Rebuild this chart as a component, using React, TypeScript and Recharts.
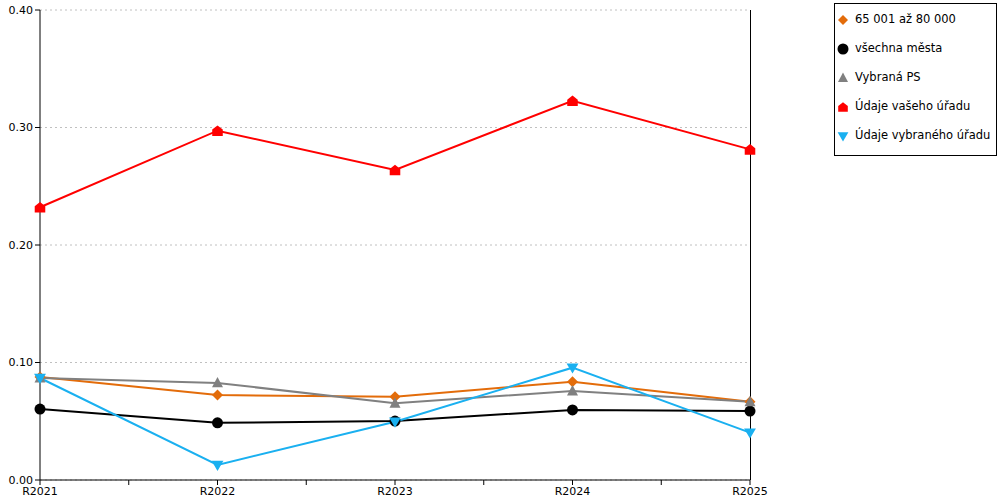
import { LineChart, Line, XAxis, YAxis, CartesianGrid, ReferenceLine } from 'recharts';

const categories = ['R2021', 'R2022', 'R2023', 'R2024', 'R2025'];
const sizeGroup = [0.0877, 0.0723, 0.0709, 0.0837, 0.0665];
const allCities = [0.0604, 0.0487, 0.0502, 0.0596, 0.0587];
const selectedPs = [0.0868, 0.0826, 0.0653, 0.0757, 0.0665];
const yourOffice = [0.2321, 0.2973, 0.2638, 0.3228, 0.2814];
const otherOffice = [0.0868, 0.0128, 0.0496, 0.0956, 0.0403];
const yTicks = [0, 0.1, 0.2, 0.3, 0.4];

const data = categories.map((name, i) => ({
  x: i,
  name,
  sizeGroup: sizeGroup[i],
  allCities: allCities[i],
  selectedPs: selectedPs[i],
  yourOffice: yourOffice[i],
  otherOffice: otherOffice[i],
}));

// tick marks sit on every category and halfway between them
const xTicks = [0, 0.5, 1, 1.5, 2, 2.5, 3, 3.5, 4];
const FONT = '"DejaVu Sans", Verdana, sans-serif';

// marker shapes
const diamond = (cx: number, cy: number, r: number) =>
  `M${cx},${cy - r}L${cx + r},${cy}L${cx},${cy + r}L${cx - r},${cy}Z`;
const triUp = (cx: number, cy: number, w: number) =>
  `M${cx},${cy - w * 1.1}L${cx + w},${cy + w * 0.8}L${cx - w},${cy + w * 0.8}Z`;
const triDown = (cx: number, cy: number, w: number) =>
  `M${cx - w},${cy - w * 0.7}L${cx + w},${cy - w * 0.7}L${cx},${cy + w}Z`;
const house = (cx: number, cy: number, w: number) =>
  `M${cx},${cy - w}L${cx + w},${cy - w * 0.2}L${cx + w},${cy + w}L${cx - w},${cy + w}L${cx - w},${cy - w * 0.2}Z`;

const shapePath = (kind: string, cx: number, cy: number, s: number) => {
  if (kind === 'diamond') return diamond(cx, cy, s);
  if (kind === 'up') return triUp(cx, cy, s);
  if (kind === 'down') return triDown(cx, cy, s * 1.08);
  return house(cx, cy, s * 0.96);
};

const makeDot = (kind: string, color: string) => (props: any) => {
  const { cx, cy, index } = props;
  const key = `${kind}-${index}`;
  if (kind === 'circle') return <circle key={key} cx={cx} cy={cy} r={5.5} fill={color} />;
  return <path key={key} d={shapePath(kind, cx, cy, 5.5)} fill={color} />;
};

const seriesDefs = [
  { key: 'sizeGroup', name: '65 001 až 80 000', color: '#e36c0a', kind: 'diamond' },
  { key: 'allCities', name: 'všechna města', color: '#000000', kind: 'circle' },
  { key: 'selectedPs', name: 'Vybraná PS', color: '#808080', kind: 'up' },
  { key: 'yourOffice', name: 'Údaje vašeho úřadu', color: '#ff0000', kind: 'house' },
  { key: 'otherOffice', name: 'Údaje vybraného úřadu', color: '#1ab0f0', kind: 'down' },
];

const LegendBox = () => (
  <div
    style={{
      position: 'absolute',
      left: 834,
      top: 3,
      width: 163,
      height: 153,
      boxSizing: 'border-box',
      border: '1px solid #000',
      background: '#fff',
      paddingTop: 1,
      fontFamily: FONT,
      fontSize: 11.5,
      color: '#000',
      whiteSpace: 'nowrap',
    }}
  >
    {seriesDefs.map((s) => (
      <div key={s.key} style={{ position: 'relative', height: 29 }}>
        <svg width={16} height={16} style={{ position: 'absolute', left: 0, top: 7 }}>
          {s.kind === 'circle' ? (
            <circle cx={8} cy={8} r={5.5} fill={s.color} />
          ) : (
            <path d={shapePath(s.kind, 8, 8, 5)} fill={s.color} />
          )}
        </svg>
        <span style={{ position: 'absolute', left: 20, top: 6, lineHeight: '16px' }}>{s.name}</span>
      </div>
    ))}
  </div>
);

export default function App() {
  return (
    <div style={{ position: 'absolute', left: 0, top: 0, width: 1000, height: 500, background: '#fff' }}>
      <LineChart width={1000} height={500} data={data} margin={{ top: 10, right: 250, left: 0, bottom: 0 }}>
        <CartesianGrid horizontal vertical={false} stroke="#c0c0c0" strokeDasharray="2 3" />
        <XAxis
          type="number"
          dataKey="x"
          domain={[0, 4]}
          ticks={xTicks}
          interval={0}
          tickFormatter={(v: number) => (Number.isInteger(v) ? categories[v] : '')}
          stroke="#000"
          tick={{ fill: '#000', fontSize: 11, fontFamily: FONT }}
          tickSize={5}
          height={20}
        />
        <YAxis
          domain={[0, 0.4]}
          ticks={yTicks}
          tickFormatter={(v: number) => v.toFixed(2)}
          stroke="#000"
          tick={{ fill: '#000', fontSize: 11, fontFamily: FONT }}
          tickSize={5}
          width={40}
        />
        <ReferenceLine x={4} stroke="#000" strokeWidth={1} strokeOpacity={1} shapeRendering="crispEdges" />
        {seriesDefs.map((s) => (
          <Line
            key={s.key}
            type="linear"
            dataKey={s.key}
            name={s.name}
            stroke={s.color}
            strokeWidth={2}
            dot={makeDot(s.kind, s.color)}
            activeDot={false}
            isAnimationActive={false}
          />
        ))}
      </LineChart>
      <LegendBox />
    </div>
  );
}
